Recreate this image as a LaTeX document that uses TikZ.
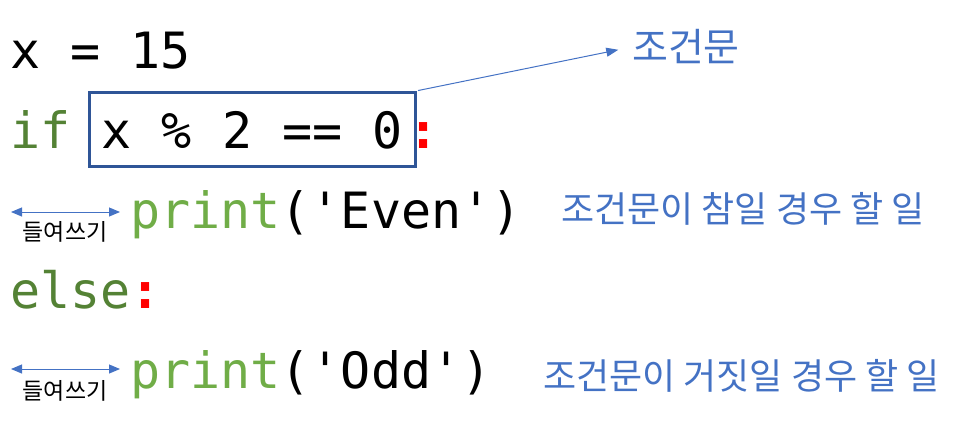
\documentclass[tikz,border=0pt]{standalone}
\usepackage{fontspec}
\usetikzlibrary{arrows.meta}
\newfontfamily\codefont{DejaVu Sans Mono}
\newfontfamily\krfont{Noto Sans CJK KR}
\definecolor{kwgreen}{HTML}{548235}
\definecolor{fngreen}{HTML}{70AD47}
\definecolor{lblue}{HTML}{4472C4}
\definecolor{boxblue}{HTML}{2F5597}
\definecolor{colred}{HTML}{FF0000}
\tikzset{
  code/.style={anchor=base west, inner sep=0pt, font=\codefont\fontsize{50}{60}\selectfont},
  note/.style={anchor=west, inner sep=0pt, text=lblue, font=\krfont\fontsize{36}{42}\selectfont},
  small/.style={anchor=center, inner sep=0pt, font=\krfont\fontsize{23}{27}\selectfont},
  condbox/.style={code, draw=boxblue, line width=3.5pt, inner xsep=12.5pt, inner ysep=18.5pt, text height=37pt, text depth=0pt},
  arr/.style={lblue, line width=1pt, -{Triangle[length=12pt,width=9pt]}},
  darr/.style={lblue, line width=1pt, {Triangle[length=11pt,width=9pt]}-{Triangle[length=11pt,width=9pt]}}
}
\begin{document}
\begin{tikzpicture}[x=1pt,y=-1pt]
\useasboundingbox (0,0) rectangle (965,431);
% line 1
\node[code] (l1) at (10,68) {x = 15};
% line 2
\node[code, text=kwgreen] (kwif) at (10,148) {if};
\node[condbox] (cond) at (87.5,148) {x \% 2 == 0};
\node[code, text=colred] (col1) at (408,148) {\bfseries :};
% line 3
\node[code] (p1) at (130,228) {\textcolor{fngreen}{print}('Even')};
% line 4
\node[code] (kwelse) at (10,308) {\textcolor{kwgreen}{else}\textcolor{colred}{\bfseries :}};
% line 5
\node[code] (p2) at (130,388) {\textcolor{fngreen}{print}('Odd')};
% notes
\node[note, font=\krfont\fontsize{39}{45}\selectfont] (n0) at (632,47) {조건문};
\node[note] (n1) at (561,209) {조건문이 참일 경우 할 일};
\node[note] (n2) at (543,376) {조건문이 거짓일 경우 할 일};
\draw[arr, shorten >=14pt, shorten <=1pt] (cond.north east) -- (n0.west);
% indentation
\coordinate (a1l) at (11,212);
\coordinate (a1r) at (120,212);
\coordinate (a2l) at (11,369);
\coordinate (a2r) at (120,369);
\draw[darr] (a1l) -- (a1r);
\draw[darr] (a2l) -- (a2r);
\node[small] (i1) at (65,232) {들여쓰기};
\node[small] (i2) at (65,391) {들여쓰기};
\end{tikzpicture}
\end{document}
